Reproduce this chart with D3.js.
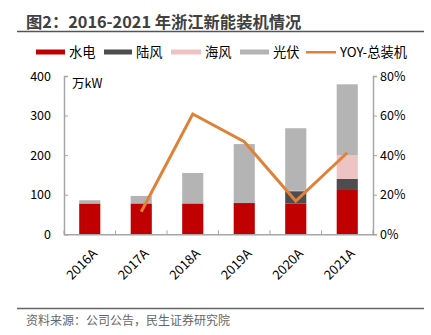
<!DOCTYPE html>
<html>
<head>
<meta charset="utf-8">
<script src="https://cdn.jsdelivr.net/npm/d3@7"></script>
<style>
body { margin: 0; background: #fff; }
text { font-family: "Noto Sans CJK SC", "Noto Sans", sans-serif; }
</style>
</head>
<body>
<svg id="chart" width="431" height="335"></svg>
<script>
var years = ["2016A", "2017A", "2018A", "2019A", "2020A", "2021A"];
var hydro = [78, 78, 78, 79, 78, 112];
var onshore = [0, 0, 0, 0, 31, 28];
var offshore = [1, 0, 0, 0, 1, 60];
var solar = [7, 19, 77, 149, 158, 179];
var yoy = [null, 0.114, 0.608, 0.468, 0.168, 0.412];

var names = ["水电", "陆风", "海风", "光伏"];
var colors = ["#c00000", "#4d4d4f", "#edc3c3", "#b4b4b4"];
var lineColor = "#df8138";

var leftTicks = [0, 100, 200, 300, 400];
var rightTicks = [0, 0.2, 0.4, 0.6, 0.8];

var svg = d3.select("#chart");
var plotLeft = 64, plotRight = 373, plotTop = 76, plotBottom = 234.3;

var x = d3.scaleBand().domain(years).range([plotLeft, plotRight]).paddingInner(0.59).paddingOuter(0.295);
var y = d3.scaleLinear().domain([0, 400]).range([plotBottom, plotTop]);
var y2 = d3.scaleLinear().domain([0, 0.8]).range([plotBottom, plotTop]);

// title
svg.append("text").attr("x", 26).attr("y", 27.5)
	.attr("font-size", 16.3).attr("font-weight", "bold").attr("fill", "#404040")
	.text("图2：2016-2021 年浙江新能装机情况");
svg.append("line").attr("x1", 17).attr("x2", 424).attr("y1", 31.5).attr("y2", 31.5)
	.attr("stroke", "#555").attr("stroke-width", 1.5);

// stacked bars
var series = [hydro, onshore, offshore, solar];
var rows = years.map(function(yr, i){
	var r = {year: yr};
	names.forEach(function(n, k){ r[n] = series[k][i]; });
	return r;
});
var stacked = d3.stack().keys(names)(rows);

svg.append("g").selectAll("g")
	.data(stacked)
	.enter()
	.append("g")
	.attr("fill", function(d, i){ return colors[i]; })
	.selectAll("rect")
	.data(function(d){ return d; })
	.enter()
	.append("rect")
	.attr("x", function(d){ return x(d.data.year); })
	.attr("width", x.bandwidth())
	.attr("y", function(d){ return y(d[1]); })
	.attr("height", function(d){ return y(d[0]) - y(d[1]); });

// axes
var axisColor = "#a6a6a6";
var fontFam = "'Noto Sans CJK SC', 'Noto Sans', sans-serif";
var gx = svg.append("g").attr("transform", "translate(0," + plotBottom + ")")
	.call(d3.axisBottom(x).tickSize(0).tickFormat(""));
gx.select(".domain").attr("stroke", axisColor).attr("stroke-width", 1.5);
var step = x.step();
gx.selectAll(".bnd").data(d3.range(years.length + 1)).enter().append("line")
	.attr("x1", function(k){ return plotLeft + k * step; })
	.attr("x2", function(k){ return plotLeft + k * step; })
	.attr("y1", 0).attr("y2", -4)
	.attr("stroke", axisColor);
svg.append("g").selectAll("text").data(years).enter().append("text")
	.attr("transform", function(d){ return "translate(" + (x(d) + x.bandwidth() / 2 + 5) + "," + (plotBottom + 17) + ") rotate(-45)"; })
	.attr("text-anchor", "end")
	.attr("dy", "0.35em")
	.attr("font-size", 13)
	.attr("fill", "#000")
	.text(function(d){ return d; });

var gy = svg.append("g").attr("transform", "translate(" + plotLeft + ",0)")
	.call(d3.axisLeft(y).tickValues(leftTicks).tickSize(-4).tickPadding(13));
gy.attr("font-family", fontFam);
gy.select(".domain").attr("stroke", axisColor).attr("stroke-width", 1.5);
gy.selectAll(".tick line").attr("stroke", axisColor);
gy.selectAll(".tick text").attr("font-size", 12.5).attr("fill", "#000");

var gy2 = svg.append("g").attr("transform", "translate(" + plotRight + ",0)")
	.call(d3.axisRight(y2).tickValues(rightTicks).tickSize(4).tickPadding(3).tickFormat(d3.format(".0%")));
gy2.attr("font-family", fontFam);
gy2.select(".domain").attr("stroke", axisColor).attr("stroke-width", 1.5);
gy2.selectAll(".tick line").attr("stroke", axisColor);
gy2.selectAll(".tick text").attr("font-size", 12.5).attr("fill", "#000");

svg.append("text").attr("x", 72).attr("y", 88).attr("font-size", 12.5).attr("fill", "#000").text("万kW");

// yoy line
var line = d3.line()
	.defined(function(d){ return d != null; })
	.x(function(d, i){ return x(years[i]) + x.bandwidth() / 2; })
	.y(function(d){ return y2(d); });
svg.append("path").datum(yoy)
	.attr("d", line)
	.attr("fill", "none")
	.attr("stroke", lineColor)
	.attr("stroke-width", 3);

// legend
var legend = [
	{name: "水电", color: colors[0], x: 36, w: 29},
	{name: "陆风", color: colors[1], x: 104, w: 28},
	{name: "海风", color: colors[2], x: 171, w: 30},
	{name: "光伏", color: colors[3], x: 240, w: 29},
	{name: "YOY-总装机", color: lineColor, x: 306, w: 30, line: true}
];
var lg = svg.append("g").selectAll("g").data(legend).enter().append("g");
lg.append("rect")
	.attr("x", function(d){ return d.x; })
	.attr("y", function(d){ return d.line ? 51 : 49.5; })
	.attr("width", function(d){ return d.w; })
	.attr("height", function(d){ return d.line ? 2.5 : 5; })
	.attr("fill", function(d){ return d.color; });
lg.append("text")
	.attr("x", function(d){ return d.x + d.w + 4; })
	.attr("y", 57)
	.attr("font-size", 13.3)
	.attr("fill", "#000")
	.text(function(d){ return d.name; });

// footer
svg.append("line").attr("x1", 17).attr("x2", 424).attr("y1", 308.5).attr("y2", 308.5)
	.attr("stroke", "#666").attr("stroke-width", 1.5);
svg.append("text").attr("x", 26).attr("y", 325).attr("font-size", 12).attr("fill", "#666")
	.text("资料来源：公司公告，民生证券研究院");
</script>
</body>
</html>
